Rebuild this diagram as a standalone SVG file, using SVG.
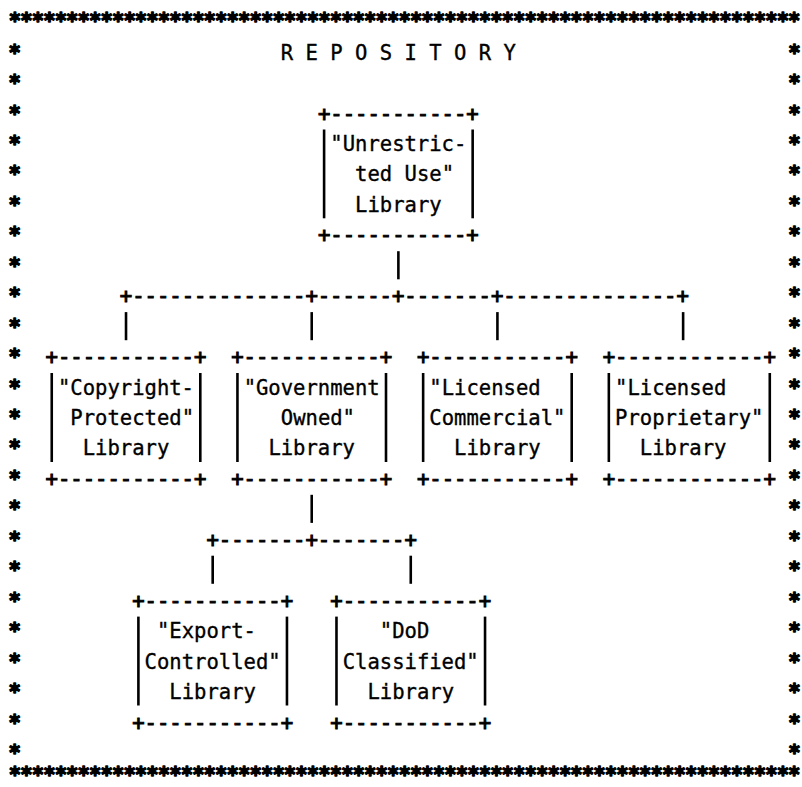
<svg xmlns="http://www.w3.org/2000/svg" width="802" height="787" viewBox="0 0 802 787">
<style>
  text { font-family: "DejaVu Sans Mono", "Liberation Mono", monospace; font-size: 20.56px; fill: #000; white-space: pre; stroke: #000; stroke-width: 0.35; }
  .star { font-weight: bold; text-anchor: middle; stroke-width: 1.4; stroke-linejoin: round; }
  .starrow { font-weight: bold; letter-spacing: -0.91px; stroke-width: 1.4; stroke-linejoin: round; }
  .edge { stroke-width: 1.0; }
  .bar { stroke: #000; stroke-width: 2.6; stroke-linecap: butt; fill: none; }
</style>
<rect width="802" height="787" fill="#fff"/>

<g id="frame">
  <text class="starrow" x="8.81" y="28">*********************************************************************</text>
  <text class="starrow" x="8.81" y="782">*********************************************************************</text>
  <text class="star" x="14.6" y="59.6">*</text><text class="star" x="794.54" y="59.6">*</text>
  <text class="star" x="14.6" y="90.05">*</text><text class="star" x="794.54" y="90.05">*</text>
  <text class="star" x="14.6" y="120.5">*</text><text class="star" x="794.54" y="120.5">*</text>
  <text class="star" x="14.6" y="150.95">*</text><text class="star" x="794.54" y="150.95">*</text>
  <text class="star" x="14.6" y="181.4">*</text><text class="star" x="794.54" y="181.4">*</text>
  <text class="star" x="14.6" y="211.85">*</text><text class="star" x="794.54" y="211.85">*</text>
  <text class="star" x="14.6" y="242.3">*</text><text class="star" x="794.54" y="242.3">*</text>
  <text class="star" x="14.6" y="272.75">*</text><text class="star" x="794.54" y="272.75">*</text>
  <text class="star" x="14.6" y="303.2">*</text><text class="star" x="794.54" y="303.2">*</text>
  <text class="star" x="14.6" y="333.65">*</text><text class="star" x="794.54" y="333.65">*</text>
  <text class="star" x="14.6" y="364.1">*</text><text class="star" x="794.54" y="364.1">*</text>
  <text class="star" x="14.6" y="394.55">*</text><text class="star" x="794.54" y="394.55">*</text>
  <text class="star" x="14.6" y="425.0">*</text><text class="star" x="794.54" y="425.0">*</text>
  <text class="star" x="14.6" y="455.45">*</text><text class="star" x="794.54" y="455.45">*</text>
  <text class="star" x="14.6" y="485.9">*</text><text class="star" x="794.54" y="485.9">*</text>
  <text class="star" x="14.6" y="516.35">*</text><text class="star" x="794.54" y="516.35">*</text>
  <text class="star" x="14.6" y="546.8">*</text><text class="star" x="794.54" y="546.8">*</text>
  <text class="star" x="14.6" y="577.25">*</text><text class="star" x="794.54" y="577.25">*</text>
  <text class="star" x="14.6" y="607.7">*</text><text class="star" x="794.54" y="607.7">*</text>
  <text class="star" x="14.6" y="638.15">*</text><text class="star" x="794.54" y="638.15">*</text>
  <text class="star" x="14.6" y="668.6">*</text><text class="star" x="794.54" y="668.6">*</text>
  <text class="star" x="14.6" y="699.05">*</text><text class="star" x="794.54" y="699.05">*</text>
  <text class="star" x="14.6" y="729.5">*</text><text class="star" x="794.54" y="729.5">*</text>
  <text class="star" x="14.6" y="759.95">*</text><text class="star" x="794.54" y="759.95">*</text>
</g>

<g id="title">
  <text x="280.77" y="59.6">R E P O S I T O R Y</text>
</g>

<g id="connectors">
  <line class="bar" x1="398.38" y1="251.2" x2="398.38" y2="279.3"/>
  <text class="edge" x="119.83" y="303.2">+--------------+------+-------+--------------+</text>
  <line class="bar" x1="126.02" y1="312.1" x2="126.02" y2="340.2"/>
  <line class="bar" x1="311.72" y1="312.1" x2="311.72" y2="340.2"/>
  <line class="bar" x1="497.42" y1="312.1" x2="497.42" y2="340.2"/>
  <line class="bar" x1="683.12" y1="312.1" x2="683.12" y2="340.2"/>
  <line class="bar" x1="311.72" y1="494.8" x2="311.72" y2="522.9"/>
  <text class="edge" x="206.49" y="546.8">+-------+-------+</text>
  <line class="bar" x1="212.68" y1="555.7" x2="212.68" y2="583.8"/>
  <line class="bar" x1="410.76" y1="555.7" x2="410.76" y2="583.8"/>
</g>

<g id="node-unrestricted">
  <text class="edge" x="317.91" y="120.5">+-----------+</text>
  <line class="bar" x1="324.1" y1="129.5" x2="324.1" y2="218.3"/>
  <line class="bar" x1="472.66" y1="129.5" x2="472.66" y2="218.3"/>
  <text x="330.29" y="150.95">"Unrestric-</text>
  <text x="355.05" y="181.4">ted Use"</text>
  <text x="355.05" y="211.85">Library</text>
  <text class="edge" x="317.91" y="242.3">+-----------+</text>
</g>

<g id="node-copyright">
  <text class="edge" x="45.55" y="364.1">+-----------+</text>
  <line class="bar" x1="51.74" y1="373" x2="51.74" y2="462"/>
  <line class="bar" x1="200.3" y1="373" x2="200.3" y2="462"/>
  <text x="57.93" y="394.55">"Copyright-</text>
  <text x="70.31" y="425.0">Protected"</text>
  <text x="82.69" y="455.45">Library</text>
  <text class="edge" x="45.55" y="485.9">+-----------+</text>
</g>

<g id="node-government">
  <text class="edge" x="231.25" y="364.1">+-----------+</text>
  <line class="bar" x1="237.44" y1="373" x2="237.44" y2="462"/>
  <line class="bar" x1="386.0" y1="373" x2="386.0" y2="462"/>
  <text x="243.63" y="394.55">"Government</text>
  <text x="280.77" y="425.0">Owned"</text>
  <text x="268.39" y="455.45">Library</text>
  <text class="edge" x="231.25" y="485.9">+-----------+</text>
</g>

<g id="node-commercial">
  <text class="edge" x="416.95" y="364.1">+-----------+</text>
  <line class="bar" x1="423.14" y1="373" x2="423.14" y2="462"/>
  <line class="bar" x1="571.7" y1="373" x2="571.7" y2="462"/>
  <text x="429.33" y="394.55">"Licensed</text>
  <text x="429.33" y="425.0">Commercial"</text>
  <text x="454.09" y="455.45">Library</text>
  <text class="edge" x="416.95" y="485.9">+-----------+</text>
</g>

<g id="node-proprietary">
  <text class="edge" x="602.65" y="364.1">+------------+</text>
  <line class="bar" x1="608.84" y1="373" x2="608.84" y2="462"/>
  <line class="bar" x1="769.78" y1="373" x2="769.78" y2="462"/>
  <text x="615.03" y="394.55">"Licensed</text>
  <text x="615.03" y="425.0">Proprietary"</text>
  <text x="639.79" y="455.45">Library</text>
  <text class="edge" x="602.65" y="485.9">+------------+</text>
</g>

<g id="node-export">
  <text class="edge" x="132.21" y="607.7">+-----------+</text>
  <line class="bar" x1="138.4" y1="616.6" x2="138.4" y2="705.5"/>
  <line class="bar" x1="286.96" y1="616.6" x2="286.96" y2="705.5"/>
  <text x="156.97" y="638.15">"Export-</text>
  <text x="144.59" y="668.6">Controlled"</text>
  <text x="169.35" y="699.05">Library</text>
  <text class="edge" x="132.21" y="729.5">+-----------+</text>
</g>

<g id="node-dod">
  <text class="edge" x="330.29" y="607.7">+-----------+</text>
  <line class="bar" x1="336.48" y1="616.6" x2="336.48" y2="705.5"/>
  <line class="bar" x1="485.04" y1="616.6" x2="485.04" y2="705.5"/>
  <text x="379.81" y="638.15">"DoD</text>
  <text x="342.67" y="668.6">Classified"</text>
  <text x="367.43" y="699.05">Library</text>
  <text class="edge" x="330.29" y="729.5">+-----------+</text>
</g>
</svg>
